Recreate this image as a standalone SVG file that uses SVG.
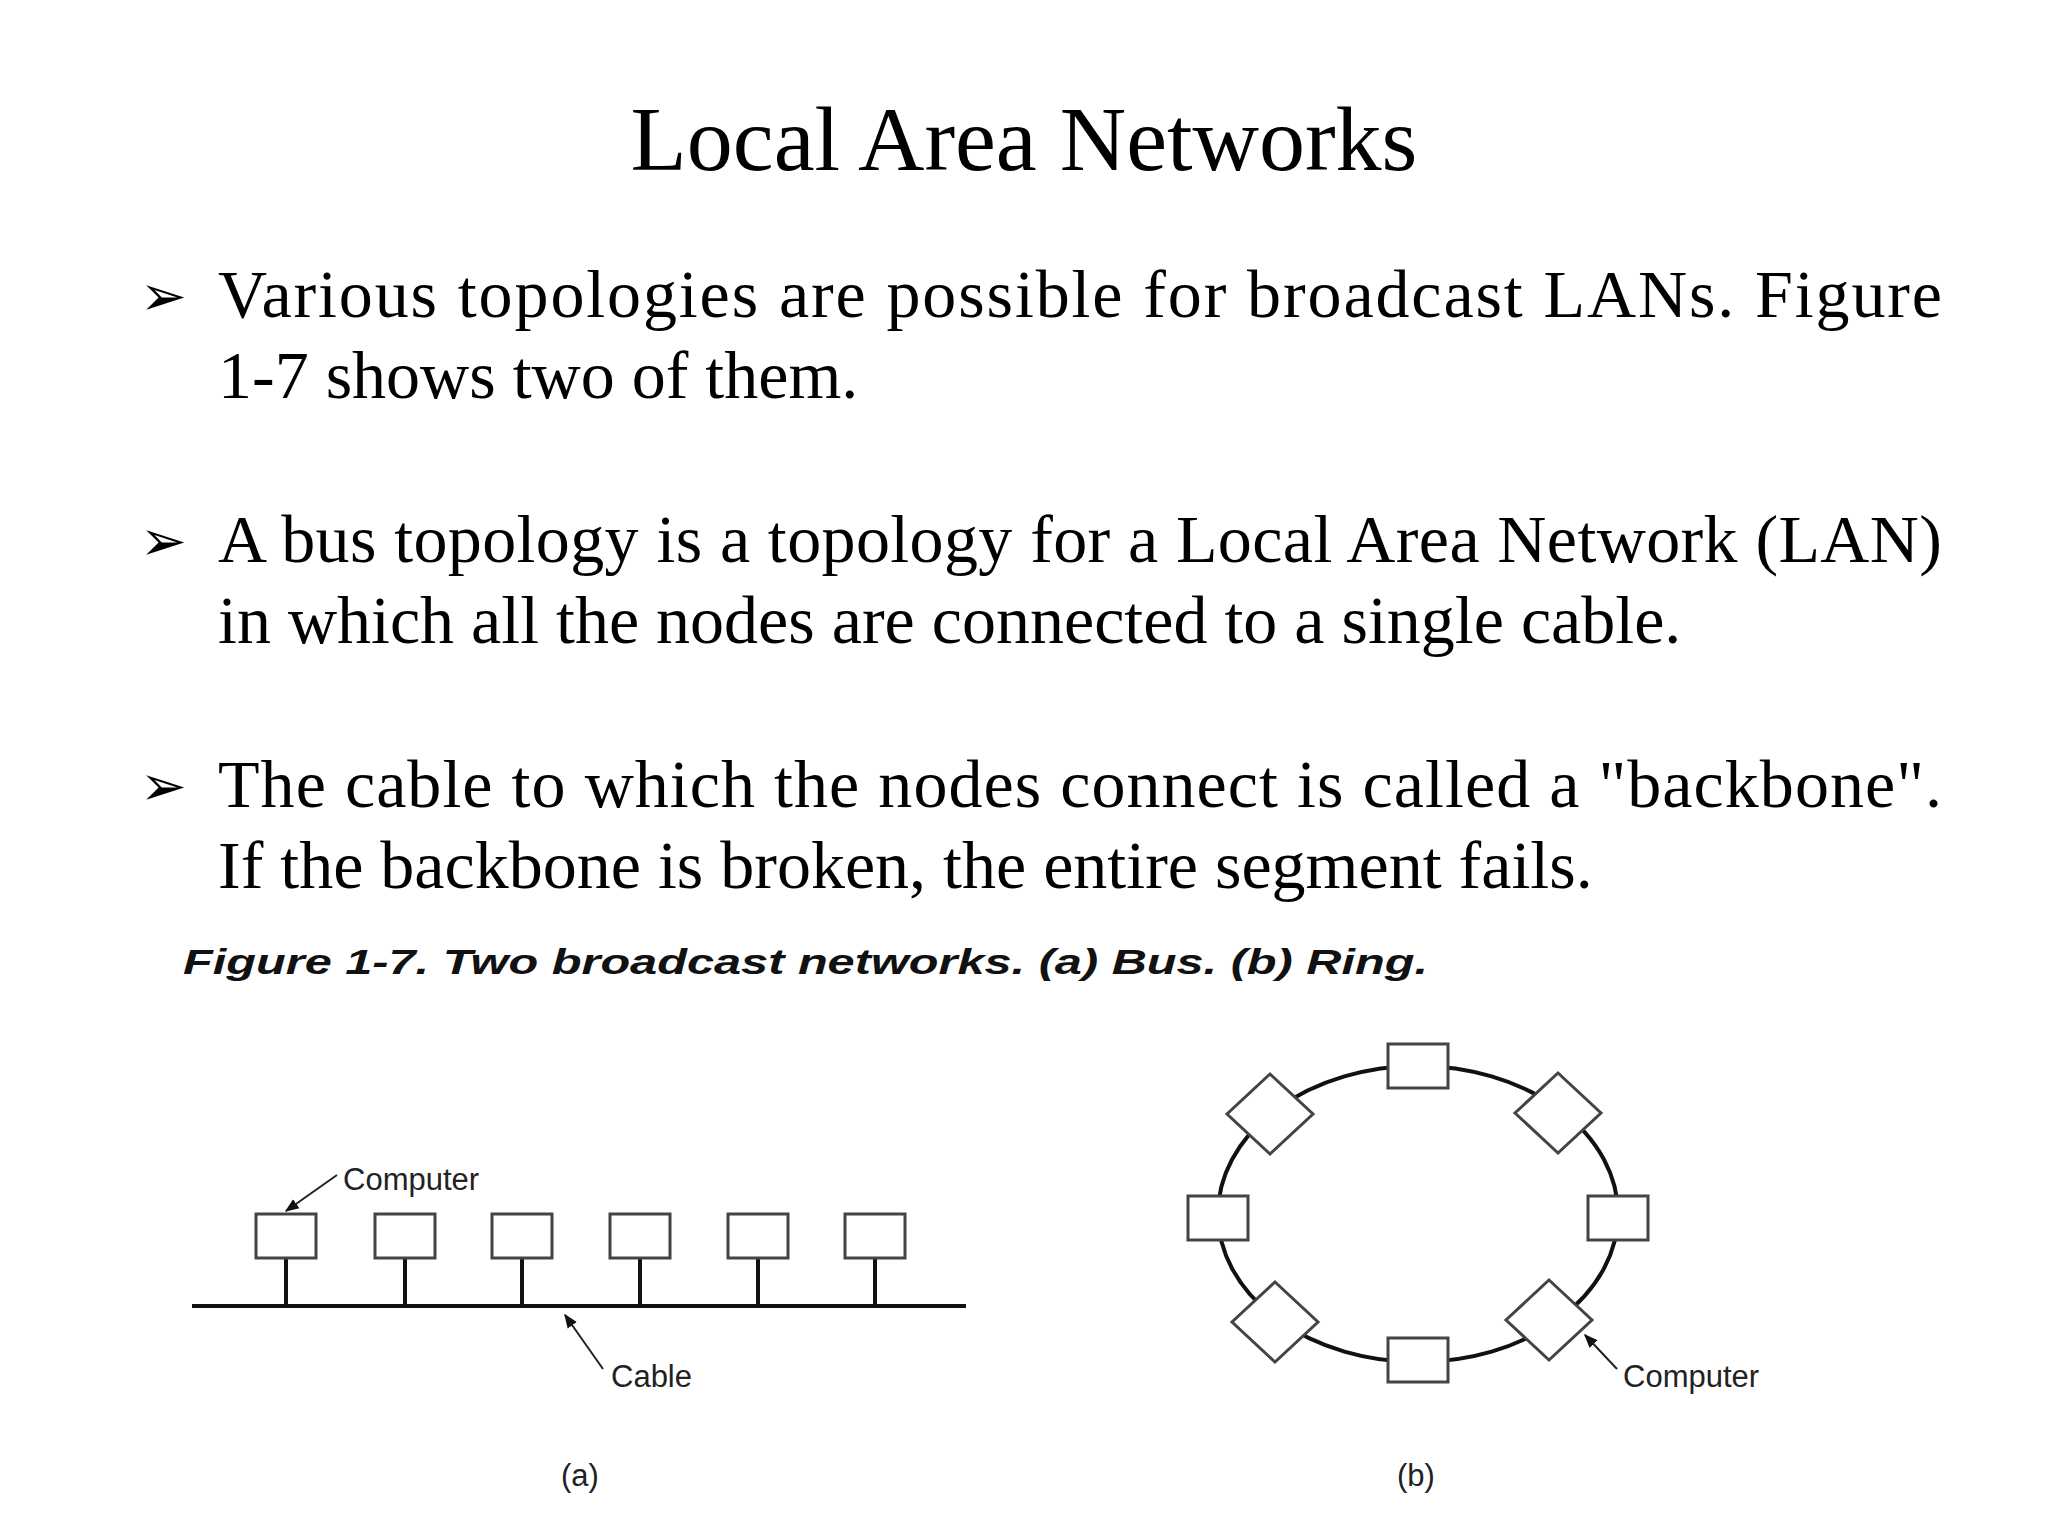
<svg xmlns="http://www.w3.org/2000/svg" width="2048" height="1536" viewBox="0 0 2048 1536">
<style>
.title{font-family:"Liberation Serif",serif;font-size:92px;fill:#000}
.body{font-family:"Liberation Serif",serif;font-size:68px;fill:#000}
.bul{font-family:"DejaVu Sans",sans-serif;font-size:56px;font-weight:bold;fill:#000}
.cap{font-family:"Liberation Sans",sans-serif;font-size:35px;font-weight:bold;font-style:italic;fill:#111}
.lbl{font-family:"Liberation Sans",sans-serif;font-size:31px;fill:#222}
.node{fill:#fff;stroke:#444;stroke-width:3}
.wire{fill:none;stroke:#111;stroke-width:4}
.ptr{stroke:#222;stroke-width:2;fill:none}
</style>
<defs>
<marker id="ah" viewBox="0 0 10 10" refX="9" refY="5" markerWidth="7" markerHeight="7" orient="auto"><path d="M0,1 L10,5 L0,9 z" fill="#111"/></marker>
</defs>
<rect width="2048" height="1536" fill="#fff"/>
<text class="title" x="1024" y="170" text-anchor="middle">Local Area Networks</text>
<g id="bullets">
<text class="bul" x="140" y="315">➢</text>
<text class="body" x="218" y="317" textLength="1724" lengthAdjust="spacing">Various topologies are possible for broadcast LANs. Figure</text>
<text class="body" x="218" y="398">1-7 shows two of them.</text>
<text class="bul" x="140" y="560">➢</text>
<text class="body" x="218" y="562" textLength="1724" lengthAdjust="spacing">A bus topology  is a topology for a Local Area Network (LAN)</text>
<text class="body" x="218" y="643">in which all the nodes are connected to a single cable.</text>
<text class="bul" x="140" y="805">➢</text>
<text class="body" x="218" y="807" textLength="1724" lengthAdjust="spacing">The cable to which the nodes connect is called a "backbone".</text>
<text class="body" x="218" y="888">If the backbone is broken, the entire segment fails.</text>
</g>
<text class="cap" x="183" y="974" textLength="1245" lengthAdjust="spacingAndGlyphs">Figure 1-7. Two broadcast networks. (a) Bus. (b) Ring.</text>
<g id="connectors">
<line class="wire" x1="192" y1="1306" x2="966" y2="1306"/>
<line class="wire" x1="286" y1="1258" x2="286" y2="1306"/>
<line class="wire" x1="405" y1="1258" x2="405" y2="1306"/>
<line class="wire" x1="522" y1="1258" x2="522" y2="1306"/>
<line class="wire" x1="640" y1="1258" x2="640" y2="1306"/>
<line class="wire" x1="758" y1="1258" x2="758" y2="1306"/>
<line class="wire" x1="875" y1="1258" x2="875" y2="1306"/>
<ellipse class="wire" cx="1418" cy="1214" rx="200" ry="148"/>
<line class="ptr" x1="337" y1="1175" x2="286" y2="1211" marker-end="url(#ah)"/>
<line class="ptr" x1="603" y1="1369" x2="565" y2="1315" marker-end="url(#ah)"/>
<line class="ptr" x1="1617" y1="1369" x2="1585" y2="1335" marker-end="url(#ah)"/>
</g>
<g id="bus-nodes">
<rect id="b1" class="node" x="256" y="1214" width="60" height="44"/>
<rect id="b2" class="node" x="375" y="1214" width="60" height="44"/>
<rect id="b3" class="node" x="492" y="1214" width="60" height="44"/>
<rect id="b4" class="node" x="610" y="1214" width="60" height="44"/>
<rect id="b5" class="node" x="728" y="1214" width="60" height="44"/>
<rect id="b6" class="node" x="845" y="1214" width="60" height="44"/>
</g>
<g id="ring-nodes">
<rect id="r1" class="node" x="1388" y="1044" width="60" height="44"/>
<rect id="r2" class="node" x="1388" y="1338" width="60" height="44"/>
<rect id="r3" class="node" x="1188" y="1196" width="60" height="44"/>
<rect id="r4" class="node" x="1588" y="1196" width="60" height="44"/>
<polygon id="r5" class="node" points="1270,1074 1313,1114 1270,1154 1227,1114"/>
<polygon id="r6" class="node" points="1558,1073 1601,1113 1558,1153 1515,1113"/>
<polygon id="r7" class="node" points="1275,1282 1318,1322 1275,1362 1232,1322"/>
<polygon id="r8" class="node" points="1549,1280 1592,1320 1549,1360 1506,1320"/>
</g>
<text class="lbl" x="343" y="1190">Computer</text>
<text class="lbl" x="611" y="1387">Cable</text>
<text class="lbl" x="1623" y="1387">Computer</text>
<text class="lbl" x="580" y="1486" text-anchor="middle">(a)</text>
<text class="lbl" x="1416" y="1486" text-anchor="middle">(b)</text>
</svg>
